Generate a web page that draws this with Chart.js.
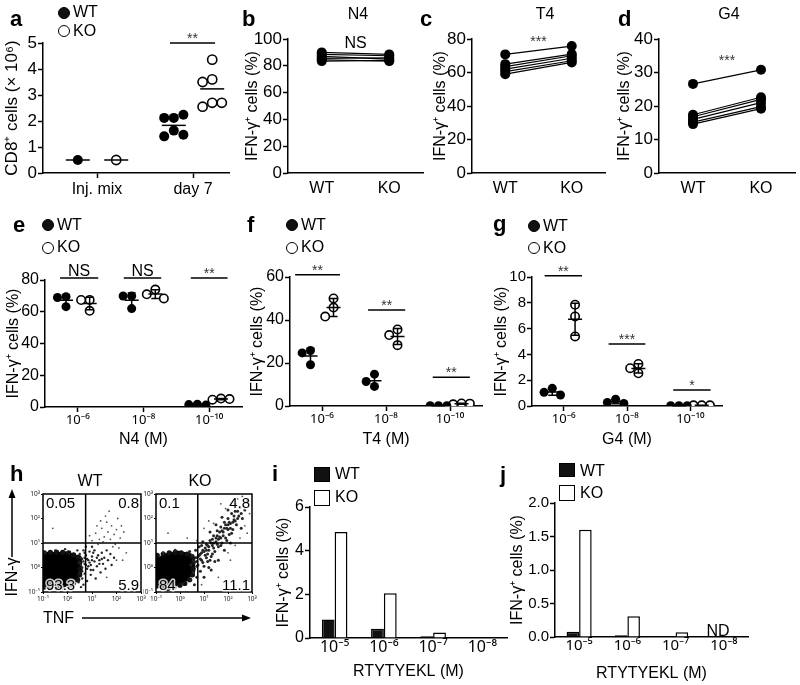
<!DOCTYPE html>
<html>
<head>
<meta charset="utf-8">
<title>IFN-γ panels</title>
<script src="https://cdn.jsdelivr.net/npm/chart.js@4.4.1/dist/chart.umd.min.js"></script>
<style>
  body { margin: 0; width: 800px; height: 685px; position: relative; overflow: hidden; background: #fff;
         font-family: "Liberation Sans", Arial, sans-serif; color: #000; }
  canvas { position: absolute; }
  .t { position: absolute; white-space: nowrap; line-height: 1; }
  .mk { position: absolute; box-sizing: border-box; border: 1.5px solid #000; }
  svg { position: absolute; left: 0; top: 0; }
</style>
</head>
<body>
<svg width="800" height="685">
  <line x1="12" y1="557" x2="12" y2="497" stroke="#000" stroke-width="1.5"/>
  <polygon points="12,489 8.5,498 15.5,498" fill="#000"/>
  <line x1="82" y1="618" x2="243" y2="618" stroke="#000" stroke-width="1.5"/>
  <polygon points="251,618 242,614.5 242,621.5" fill="#000"/>
</svg>
<script>
// ---------- data ----------
// a: CD8+ cells (x 10^6)
const aCats = ['Inj. mix', 'day 7'];
const aWT = [[0.5], [2.12, 2.12, 2.24, 1.63, 1.41, 1.47]];
const aKO = [[0.5], [4.36, 3.6, 3.5, 2.7, 2.55, 2.7]];
const aSig = [{ x0: 0.76, x1: 1.23, y: 5, text: '**' }];

// b-d: paired WT / KO, IFN-g+ cells (%)
const pairCats = ['WT', 'KO'];
const n4WT = [90, 88.5, 87, 85.5, 84.5, 83.5];
const n4KO = [88.5, 87.5, 85, 86, 83.5, 84];
const t4WT = [70.8, 65, 63.5, 62, 60.5, 59];
const t4KO = [75.8, 71, 70, 68.5, 67, 66];
const g4WT = [26.6, 17.4, 16.8, 16.0, 15.2, 14.6];
const g4KO = [30.8, 22.6, 22.0, 21.0, 19.8, 19.2];
const bSig = [{ x: 0.5, y: 93.3, text: 'NS' }];
const cSig = [{ x: 0.5, y: 75.9, text: '***' }];
const dSig = [{ x: 0.5, y: 32.3, text: '***' }];

// e-g: dose response, triplicates
const doseCats = ['10⁻⁶', '10⁻⁸', '10⁻¹⁰'];
const n4DoseWT = [[69.5, 69, 63.2], [69.9, 69.9, 62], [1.8, 1.5, 1.2]];
const n4DoseKO = [[67.4, 67.4, 60.6], [74, 71, 68.4], [5.3, 4.6, 5.0]];
const t4DoseWT = [[25.8, 24.7, 19.2], [14.8, 11.4, 9.1], [0.1, 0.1, 0.1]];
const t4DoseKO = [[50, 45.8, 41.6], [35.6, 33, 28.3], [1.2, 0.8, 1.1]];
const g4DoseWT = [[1.37, 1.06, 0.85], [0.52, 0.28, 0.2], [0.02, 0.02, 0.02]];
const g4DoseKO = [[7.85, 6.94, 5.39], [3.26, 2.93, 2.54], [0.05, 0.05, 0.05]];
const eSig = [
  { x0: -0.27, x1: 0.31, y: 81.3, text: 'NS' },
  { x0: 0.7, x1: 1.27, y: 81.3, text: 'NS' },
  { x0: 1.72, x1: 2.28, y: 81.3, text: '**' }
];
const fSig = [
  { x0: -0.42, x1: 0.28, y: 61, text: '**' },
  { x0: 0.72, x1: 1.3, y: 44.7, text: '**' },
  { x0: 1.73, x1: 2.31, y: 13.4, text: '**' }
];
const gSig = [
  { x0: -0.3, x1: 0.29, y: 10.1, text: '**' },
  { x0: 0.71, x1: 1.29, y: 4.8, text: '***' },
  { x0: 1.73, x1: 2.32, y: 1.25, text: '*' }
];

// h: flow plots, events as [log10 TNF, log10 IFN-g]
const flowTicks = [0.1, 1, 10, 100, 1000];
const flowTickLabels = ['10⁻¹', '10⁰', '10¹', '10²', '10³'];
const gateX = 5.5, gateY = 10;
const wtQuad = ['0.05', '0.8', '93.3', '5.9'];
const koQuad = ['0.1', '4.8', '84', '11.1'];
const wtCore = [
  [-0.85,-0.6],[-0.85,-0.35],[-0.85,-0.1],[-0.85,0.15],[-0.85,0.4],
  [-0.6,-0.6],[-0.6,-0.35],[-0.6,-0.1],[-0.6,0.15],[-0.6,0.4],
  [-0.35,-0.6],[-0.35,-0.35],[-0.35,-0.1],[-0.35,0.15],[-0.35,0.4],
  [-0.1,-0.55],[-0.1,-0.3],[-0.1,-0.05],[-0.1,0.2],[-0.1,0.42],
  [0.15,-0.4],[0.15,-0.15],[0.15,0.1],[0.15,0.35],
  [0.35,-0.2],[0.35,0.05],[0.35,0.28]
];
const wtRim = [
  [-0.95,0.6],[-0.7,0.62],[-0.45,0.63],[-0.2,0.62],[0.05,0.6],[0.25,0.52],[0.45,0.42],[0.5,0.2],
  [0.52,-0.05],[0.5,-0.3],[0.42,-0.5],[0.25,-0.62],[0.05,-0.72],[-0.2,-0.8],[-0.45,-0.82],
  [-0.7,-0.82],[-0.95,-0.8]
];
const wtMid = [
  [0.45,-0.6],[0.5,-0.2],[0.5,0.2],[0.5,0.55],[0.6,-0.45],[0.6,0.0],[0.6,0.35],[0.65,0.7],
  [0.7,-0.25],[0.7,0.15],[0.75,0.5],[0.8,-0.55],[0.8,-0.05],[0.85,0.3],[0.9,0.65],[0.95,-0.3],
  [0.95,0.1],[1.0,0.45],[1.05,-0.1],[1.1,0.25],[1.1,0.7],[1.15,-0.45],[1.2,0.05],[1.25,0.5],
  [1.3,0.3],[1.35,-0.2],[1.4,0.6],[1.45,0.15],[1.5,0.4],[1.55,-0.05],[1.6,0.7],[1.65,0.3],
  [1.75,0.55],[1.8,0.1],[1.9,0.4],[0.55,-0.8],[0.4,0.7],[0.2,-0.8],[-0.1,0.75],[-0.5,0.7],
  [-0.9,0.6],[0.75,0.85],[1.0,0.85],[0.65,-0.7],[0.55,0.1],[0.7,0.4],[0.85,0.05],[0.6,-0.15],
  [0.55,0.4],[0.65,0.25],[0.75,0.1],[0.8,0.35],[0.9,0.2],[1.0,0.3],[1.05,0.6],[1.2,0.4],
  [1.3,0.15],[1.4,0.35],[0.95,-0.1],[0.7,0.6]
];
const wtSparse = [
  [1.0,1.1],[1.15,1.4],[1.3,1.15],[1.4,1.6],[1.5,1.25],[1.6,1.85],[1.65,1.45],[1.75,1.15],
  [1.8,1.7],[1.9,1.35],[2.0,1.55],[2.05,2.0],[2.15,1.2],[1.35,1.9],[1.55,2.1],[2.2,1.7],
  [1.2,1.7],[1.45,1.05],[0.9,1.3],[1.7,2.3],[2.3,1.45],[-0.6,1.6],[2.4,0.6],[2.1,0.8],
  [1.95,0.95],[2.25,0.3],[1.25,0.95],[1.85,0.85],[2.0,0.3],[1.6,-0.4]
];
const koCore = [
  [-0.85,-0.55],[-0.85,-0.3],[-0.85,-0.05],[-0.85,0.2],
  [-0.6,-0.65],[-0.6,-0.4],[-0.6,-0.15],[-0.6,0.1],[-0.6,0.35],
  [-0.35,-0.6],[-0.35,-0.35],[-0.35,-0.1],[-0.35,0.15],[-0.35,0.4],
  [-0.1,-0.5],[-0.1,-0.25],[-0.1,0],[-0.1,0.25],[-0.1,0.45],
  [0.15,-0.35],[0.15,-0.1],[0.15,0.15],[0.15,0.4],
  [0.38,-0.15],[0.38,0.1],[0.38,0.35]
];
const koRim = [
  [-0.95,0.5],[-0.7,0.55],[-0.45,0.6],[-0.2,0.62],[0.05,0.6],[0.3,0.55],[0.5,0.45],[0.55,0.2],
  [0.55,-0.05],[0.52,-0.3],[0.4,-0.5],[0.2,-0.65],[0.0,-0.72],[-0.25,-0.8],[-0.5,-0.85],
  [-0.75,-0.8],[-0.95,-0.75]
];
const koMid = [
  [0.45,-0.5],[0.45,0.1],[0.5,0.5],[0.55,-0.2],[0.6,0.25],[0.65,0.7],[0.7,-0.4],[0.7,0.05],
  [0.75,0.45],[0.8,0.85],[0.85,-0.15],[0.9,0.3],[0.95,0.7],[1.0,0.05],[1.05,0.5],[1.1,0.95],
  [1.15,0.25],[1.2,0.7],[1.25,1.1],[1.3,0.45],[1.35,0.9],[1.4,1.3],[1.45,0.65],[1.5,1.05],
  [1.55,1.5],[1.6,0.85],[1.65,1.25],[1.7,1.65],[1.75,1.0],[1.8,1.45],[1.85,1.85],[1.9,1.2],
  [1.95,1.6],[2.0,2.0],[2.05,1.35],[2.1,1.8],[2.15,2.2],[2.2,1.55],[2.25,1.95],[2.3,2.3],
  [2.35,1.75],[2.45,2.1],[2.5,2.45],[2.6,2.0],[2.7,2.35],[1.0,-0.4],[1.3,-0.1],[1.6,0.3],
  [1.2,0.0],[1.45,0.25],[0.95,1.05],[1.25,1.45],[1.5,1.75],[1.75,2.05],[2.0,2.35],[2.3,2.6],
  [2.55,1.6],[2.8,2.7],[1.85,0.7],[2.1,1.0],[0.6,-0.7],[0.85,0.55],[1.1,0.4],[1.4,0.8],
  [1.7,1.2],[2.0,1.55],[2.3,1.9],[0.4,0.65],[-0.2,0.7],[-0.7,0.6],
  [0.55,0.3],[0.65,0.4],[0.7,0.25],[0.8,0.5],[0.85,0.35],[0.9,0.6],[1.0,0.65],[1.05,0.8],
  [1.1,0.7],[1.15,0.9],[1.2,0.85],[1.3,1.0],[1.35,1.15],[1.4,1.0],[1.5,1.2],[1.55,1.3],
  [1.6,1.15],[1.65,1.45],[1.75,1.5],[1.8,1.3],[1.85,1.6],[1.9,1.75],[2.0,1.75],[2.05,1.85],
  [2.1,1.6],[2.2,1.85],[2.25,2.1],[2.4,2.0],[2.4,2.3],[2.55,2.2],[1.15,0.55],[1.35,0.55],
  [1.55,0.95],[1.7,0.9],[1.95,1.1],[2.15,1.4],[0.75,0.1],[0.95,0.2],[1.25,0.3],[0.9,0.9]
];
const koSparse = [
  [0.3,1.2],[-0.5,1.4],[1.0,1.6],[1.2,1.9],[2.5,1.2],[2.7,1.7],[2.9,2.2],[2.2,2.7],
  [2.6,2.9],[1.9,2.4],[0.7,1.1],[2.0,0.6],[1.6,-0.4],[2.3,0.9],[2.8,1.4],[1.4,1.8],
  [2.4,2.8],[0.9,-0.7],[2.1,0.3],[1.7,2.6]
];

// i, j: RTYTYEKL dose, bars
const rtCats = ['10⁻⁵', '10⁻⁶', '10⁻⁷', '10⁻⁸'];
const iWT = [0.85, 0.42, 0.08, 0.05];
const iKO = [4.85, 2.05, 0.25, null];
const jWT = [0.08, 0.025, null, null];
const jKO = [1.6, 0.31, 0.07, null];
const jSig = [{ x: 2.88, y: 0.015, text: 'ND' }];

// ---------- helpers ----------
const FONT = "'Liberation Sans', Arial, sans-serif";
const SUPFONT = "'Noto Sans', 'DejaVu Sans', sans-serif"; // has every superscript digit
Chart.defaults.font.family = FONT;
Chart.defaults.color = '#000';
Chart.defaults.animation = false;
Chart.defaults.events = [];
Chart.defaults.plugins.legend.display = false;
Chart.defaults.plugins.tooltip.enabled = false;

const mkCanvas = (l, t, w, h) => {
  const c = document.createElement('canvas');
  c.width = w; c.height = h;
  c.style.left = l + 'px'; c.style.top = t + 'px';
  document.body.appendChild(c);
  return c;
};

const mean = a => a.reduce((s, v) => s + v, 0) / a.length;
const sd = a => { const m = mean(a); return Math.sqrt(a.reduce((s, v) => s + (v - m) ** 2, 0) / (a.length - 1)); };

// beeswarm: points whose values are close get pushed sideways
const swarm = (vals, center, step, tol) => {
  const placed = [];
  return vals.map(v => {
    const used = placed.filter(p => Math.abs(p.v - v) < tol).map(p => p.k);
    const k = [0, -1, 1, -2, 2, -3, 3].find(s => !used.includes(s));
    placed.push({ v, k });
    return { x: center + k * step, y: v };
  });
};

const yAxis = o => {
  const ax = {
    type: 'linear', min: o.min, max: o.max,
    afterFit: s => { s.width = o.w; },
    border: { color: '#000', width: 1.5 },
    grid: { drawOnChartArea: false, tickLength: 5, tickColor: '#000', tickWidth: 1.5 },
    ticks: { stepSize: o.step, padding: 1, font: { size: o.fs }, color: '#000' },
    title: { display: true, text: o.title, font: { size: o.tfs || 16 }, color: '#000', padding: { top: o.tp, bottom: 0 } }
  };
  if (o.cb) ax.ticks.callback = o.cb;
  return ax;
};

const xGroups = (cats, min, max, h, font, pad, title, tpb) => ({
  type: 'linear', min, max,
  afterBuildTicks: s => { s.ticks = cats.map((c, i) => ({ value: i })); },
  afterFit: s => { s.height = h; },
  border: { color: '#000', width: 1.5 },
  grid: { drawOnChartArea: false, tickLength: 5, tickColor: '#000', tickWidth: 1.5 },
  ticks: { font, color: '#000', padding: pad, maxRotation: 0, autoSkip: false, callback: v => cats[v] },
  title: { display: !!title, text: title || '', font: { size: 16 }, color: '#000', padding: { top: 0, bottom: tpb || 0 } }
});

const xCats = (h, font, pad, title, tpb) => ({
  type: 'category', offset: true,
  afterFit: s => { s.height = h; },
  border: { color: '#000', width: 1.5 },
  grid: { display: false, drawTicks: false },
  ticks: { font, color: '#000', padding: pad, maxRotation: 0, autoSkip: false },
  title: { display: !!title, text: title || '', font: { size: 16 }, color: '#000', padding: { top: 0, bottom: tpb || 0 } }
});

const sigPlugin = items => ({
  id: 'sig',
  afterDraw(chart) {
    const { ctx, scales: { x, y } } = chart;
    ctx.save();
    ctx.strokeStyle = '#000'; ctx.lineWidth = 1.5; ctx.textAlign = 'center'; ctx.textBaseline = 'alphabetic';
    items.forEach(s => {
      const py = y.getPixelForValue(s.y);
      let cx, lift = 0;
      if (s.x1 !== undefined) {
        const a = x.getPixelForValue(s.x0), b = x.getPixelForValue(s.x1);
        ctx.beginPath(); ctx.moveTo(a, py); ctx.lineTo(b, py); ctx.stroke();
        cx = (a + b) / 2; lift = 2;
      } else cx = x.getPixelForValue(s.x);
      const star = s.text.includes('*');
      ctx.font = (star ? 14 : 16) + 'px ' + FONT;
      ctx.fillStyle = star ? '#333' : '#000';
      ctx.fillText(s.text, cx, py - (star ? 0 : lift));
    });
    ctx.restore();
  }
});

const statsPlugin = (groups, halfMean, halfCap, withSD) => ({
  id: 'stats',
  afterDatasetsDraw(chart) {
    const { ctx, scales: { x, y } } = chart;
    ctx.save(); ctx.strokeStyle = '#000'; ctx.lineWidth = 1.5;
    groups.forEach(g => {
      const m = mean(g.vals), s = g.vals.length > 1 ? sd(g.vals) : 0;
      const px = x.getPixelForValue(g.x), pm = y.getPixelForValue(m);
      ctx.beginPath();
      ctx.moveTo(px - halfMean, pm); ctx.lineTo(px + halfMean, pm);
      if (withSD && s > 0) {
        const pt = y.getPixelForValue(m + s), pb = y.getPixelForValue(Math.max(0, m - s));
        ctx.moveTo(px, pt); ctx.lineTo(px, pb);
        ctx.moveTo(px - halfCap, pt); ctx.lineTo(px + halfCap, pt);
        ctx.moveTo(px - halfCap, pb); ctx.lineTo(px + halfCap, pb);
      }
      ctx.stroke();
    });
    ctx.restore();
  }
});

const wtPts = { backgroundColor: '#000', borderColor: '#000', pointBackgroundColor: '#000', pointBorderColor: '#000', pointBorderWidth: 0 };
const koPts = { backgroundColor: '#fff', borderColor: '#000', pointBackgroundColor: '#fff', pointBorderColor: '#000', pointBorderWidth: 1.6 };

// ---------- a ----------
{
  const tolA = 0.075 * 5;
  const wt = aWT.flatMap((v, i) => swarm(v, i - 0.2, 0.1, tolA));
  const ko = aKO.flatMap((v, i) => swarm(v, i + 0.2, 0.1, tolA));
  const groups = aWT.map((v, i) => ({ x: i - 0.2, vals: v })).concat(aKO.map((v, i) => ({ x: i + 0.2, vals: v })));
  new Chart(mkCanvas(0, 0, 236, 200), {
    type: 'scatter',
    data: { datasets: [
      { data: wt, pointRadius: 5, ...wtPts },
      { data: ko, pointRadius: 4.6, ...koPts }
    ] },
    options: {
      responsive: false,
      layout: { padding: { top: 43, right: 7, left: 0, bottom: 0 } },
      scales: {
        x: xGroups(aCats, -0.5625, 1.375, 27, { size: 16 }, 2),
        y: yAxis({ min: 0, max: 5, step: 1, w: 43, fs: 17, title: 'CD8⁺ cells (× 10⁶)', tfs: 17, tp: 1.8 })
      }
    },
    plugins: [statsPlugin(groups, 12, 0, false), sigPlugin(aSig)]
  });
}

// ---------- b, c, d ----------
const pairChart = (l, w, yw, padR, wt, ko, max, step, tp, sig) => {
  new Chart(mkCanvas(l, 0, w, 200), {
    type: 'line',
    data: {
      labels: pairCats,
      datasets: wt.map((v, i) => ({
        data: [v, ko[i]], borderColor: '#000', borderWidth: 1.2,
        pointRadius: 5, pointBackgroundColor: '#000', pointBorderWidth: 0
      }))
    },
    options: {
      responsive: false,
      layout: { padding: { top: 39, right: padR, left: 0, bottom: 0 } },
      scales: {
        x: xCats(27, { size: 16 }, 6),
        y: yAxis({ min: 0, max, step, w: yw, fs: 17, title: 'IFN-γ⁺ cells (%)', tp })
      }
    },
    plugins: [sigPlugin(sig)]
  });
};
pairChart(220, 210, 68, 7, n4WT, n4KO, 100, 20, 23.4, bSig);
pairChart(410, 200, 62, 4, t4WT, t4KO, 80, 20, 21.4, cSig);
pairChart(600, 200, 59, 4, g4WT, g4KO, 40, 10, 15.4, dSig);

// ---------- e, f, g ----------
const doseChart = (l, yw, padTop, wt, ko, max, step, fs, tp, xTitle, sig) => {
  const tol = 0.07 * max;
  const wtData = wt.flatMap((v, i) => swarm(v, i - 0.18, 0.13, tol));
  const koData = ko.flatMap((v, i) => swarm(v, i + 0.18, 0.13, tol));
  const groups = wt.map((v, i) => ({ x: i - 0.18, vals: v })).concat(ko.map((v, i) => ({ x: i + 0.18, vals: v })));
  new Chart(mkCanvas(l, 190, 250, 260), {
    type: 'scatter',
    data: { datasets: [
      { data: wtData, pointRadius: 4.5, ...wtPts },
      { data: koData, pointRadius: 4.2, ...koPts }
    ] },
    options: {
      responsive: false,
      layout: { padding: { top: padTop, right: 8, left: 0, bottom: 0 } },
      scales: {
        x: xGroups(doseCats, -0.5, 2.5, 43 + (padTop === 90 ? 0 : 1), { size: 13, family: SUPFONT }, 0, xTitle, 0.5),
        y: yAxis({ min: 0, max, step, w: yw, fs, title: 'IFN-γ⁺ cells (%)', tp })
      }
    },
    plugins: [statsPlugin(groups, 7, 4, true), sigPlugin(sig)]
  });
};
doseChart(0, 45, 90, n4DoseWT, n4DoseKO, 80, 20, 16, 4.4, 'N4 (M)', eSig);
doseChart(240, 50, 87, t4DoseWT, t4DoseKO, 60, 20, 16, 8.4, 'T4 (M)', fSig);
doseChart(480, 52, 87, g4DoseWT, g4DoseKO, 10, 2, 15, 12.4, 'G4 (M)', gSig);

// ---------- h ----------
const toXY = pts => pts.map(([a, b]) => ({ x: 10 ** a, y: 10 ** b }));
const logAxis = () => ({
  type: 'logarithmic', min: 0.1, max: 1000,
  afterBuildTicks: s => { s.ticks = flowTicks.map(v => ({ value: v })); },
  border: { display: false },
  grid: { drawOnChartArea: false, tickLength: 2, tickColor: '#000', tickWidth: 1 },
  ticks: { font: { size: 6.5, family: SUPFONT }, color: '#222', padding: 1, autoSkip: false, maxRotation: 0,
           callback: v => flowTickLabels[flowTicks.indexOf(v)] }
});
const gatePlugin = quad => ({
  id: 'gate',
  afterDatasetsDraw(chart) {
    const { ctx, chartArea: a, scales: { x, y } } = chart;
    ctx.save();
    ctx.strokeStyle = '#000'; ctx.lineWidth = 1.5;
    ctx.strokeRect(a.left, a.top, a.right - a.left, a.bottom - a.top);
    const gx = x.getPixelForValue(gateX), gy = y.getPixelForValue(gateY);
    ctx.beginPath();
    ctx.moveTo(gx, a.top); ctx.lineTo(gx, a.bottom);
    ctx.moveTo(a.left, gy); ctx.lineTo(a.right, gy);
    ctx.stroke();
    ctx.font = '15px ' + FONT; ctx.fillStyle = '#000';
    ctx.lineWidth = 3; ctx.lineJoin = 'round'; ctx.strokeStyle = 'rgba(255,255,255,0.8)';
    const put = (s, px, py, al) => { ctx.textAlign = al; ctx.strokeText(s, px, py); ctx.fillText(s, px, py); };
    put(quad[0], a.left + 3, a.top + 14, 'left');
    put(quad[1], a.right - 2, a.top + 14, 'right');
    put(quad[2], a.left + 3, a.bottom - 2, 'left');
    put(quad[3], a.right - 2, a.bottom - 2, 'right');
    ctx.restore();
  }
});
const flowChart = (l, w, yw, core, rim, mid, sparse, quad, midR) => {
  const y = logAxis(); y.afterFit = s => { s.width = yw; };
  const x = logAxis(); x.afterFit = s => { s.height = 18; };
  new Chart(mkCanvas(l, 470, w, 140), {
    type: 'scatter',
    data: { datasets: [
      { data: toXY(sparse), pointRadius: 0.9, pointBackgroundColor: '#555', pointBorderWidth: 0, clip: 0 },
      { data: toXY(mid), pointRadius: midR, pointBackgroundColor: '#262626', pointBorderWidth: 0, clip: 0 },
      { data: toXY(rim), pointRadius: 2.6, pointBackgroundColor: '#111', pointBorderWidth: 0, clip: 0 },
      { data: toXY(core), pointRadius: 6, pointBackgroundColor: '#000', pointBorderWidth: 0, clip: 0 }
    ] },
    options: {
      responsive: false,
      layout: { padding: { top: 24, right: 5, left: 0, bottom: 0 } },
      scales: { x, y }
    },
    plugins: [gatePlugin(quad)]
  });
};
flowChart(18, 129, 25, wtCore, wtRim, wtMid, wtSparse, wtQuad, 1.2);
flowChart(143, 115, 13, koCore, koRim, koMid, koSparse, koQuad, 1.5);

// ---------- i, j ----------
const barChart = (l, yw, padTop, padR, wt, ko, max, step, fs, xfs, tp, tpb, cb, sig) => {
  const xa = xCats(685 - 450 - padTop - (max === 6 ? 131 : 134), { size: xfs, family: SUPFONT }, 0, 'RTYTYEKL (M)', tpb);
  new Chart(mkCanvas(l, 450, 255, 235), {
    type: 'bar',
    data: {
      labels: rtCats,
      datasets: [
        { data: wt, backgroundColor: '#111', borderColor: '#000', borderWidth: 1.5 },
        { data: ko, backgroundColor: '#fff', borderColor: '#000', borderWidth: 1.5 }
      ]
    },
    options: {
      responsive: false,
      categoryPercentage: 0.52, barPercentage: 1,
      layout: { padding: { top: padTop, right: padR, left: 0, bottom: 0 } },
      scales: {
        x: xa,
        y: yAxis({ min: 0, max, step, w: yw, fs, title: 'IFN-γ⁺ cells (%)', tp, cb })
      }
    },
    plugins: sig ? [sigPlugin(sig)] : []
  });
};
barChart(260, 50, 57, 8, iWT, iKO, 6, 2, 16, 16, 14.4, 3.4, null, null);
barChart(505, 50, 53, 12, jWT, jKO, 2, 0.5, 15, 15, 3.4, 1.4, v => v.toFixed(1), jSig);

// ---------- text overlays: panel letters, titles, legends ----------
const txt = (s, x, base, size, o = {}) => {
  const d = document.createElement('div');
  d.className = 't';
  d.textContent = s;
  d.style.fontSize = size + 'px';
  d.style.left = x + 'px';
  d.style.top = (base - 0.8465 * size) + 'px';
  if (o.bold) d.style.fontWeight = 'bold';
  if (o.center) d.style.transform = 'translateX(-50%)';
  document.body.appendChild(d);
  return d;
};
const marker = (l, t, w, h, fill, round) => {
  const d = document.createElement('div');
  d.className = 'mk';
  Object.assign(d.style, { left: l + 'px', top: t + 'px', width: w + 'px', height: h + 'px',
    background: fill ? '#111' : '#fff', borderRadius: round ? '50%' : '0', borderWidth: round && !fill ? '1.8px' : '1.5px' });
  document.body.appendChild(d);
};

[['a', 10, 27], ['b', 242, 27], ['c', 420, 27], ['d', 618, 27], ['e', 13, 233], ['f', 247, 233],
 ['g', 493, 232], ['h', 10, 482], ['i', 272, 482], ['j', 500, 483]]
  .forEach(([s, x, y]) => txt(s, x, y, 22, { bold: true }));

txt('N4', 358, 20, 16, { center: true });
txt('T4', 545, 20, 16, { center: true });
txt('G4', 729, 20, 16, { center: true });
txt('WT', 90, 487, 16, { center: true });
txt('KO', 200, 487, 16, { center: true });

// circle legends (a, e, f, g)
[[64, 12.5, 31, 18, 37], [48, 225, 247.5, 231, 253], [292, 225, 247.5, 231, 253], [534, 226, 248, 232, 254]]
  .forEach(([cx, y1, y2, b1, b2]) => {
    marker(cx - 6, y1 - 6, 12, 12, true, true);
    marker(cx - 6, y2 - 6, 12, 12, false, true);
    txt('WT', cx + 9, b1, 16);
    txt('KO', cx + 9, b2, 16);
  });
// square legends (i, j)
marker(314, 467, 16, 15, true, false); txt('WT', 335, 480, 16);
marker(314, 490, 16, 16, false, false); txt('KO', 335, 503, 16);
marker(559, 463, 16, 14, true, false); txt('WT', 580, 477, 16);
marker(559, 485, 16, 16, false, false); txt('KO', 580, 499, 16);

// flow axis labels
const ifn = txt('IFN-γ', 12, 577, 16);
ifn.style.top = '577px';
ifn.style.transform = 'translate(-50%, -50%) rotate(-90deg)';
txt('TNF', 43, 624, 16);
</script>
</body>
</html>
